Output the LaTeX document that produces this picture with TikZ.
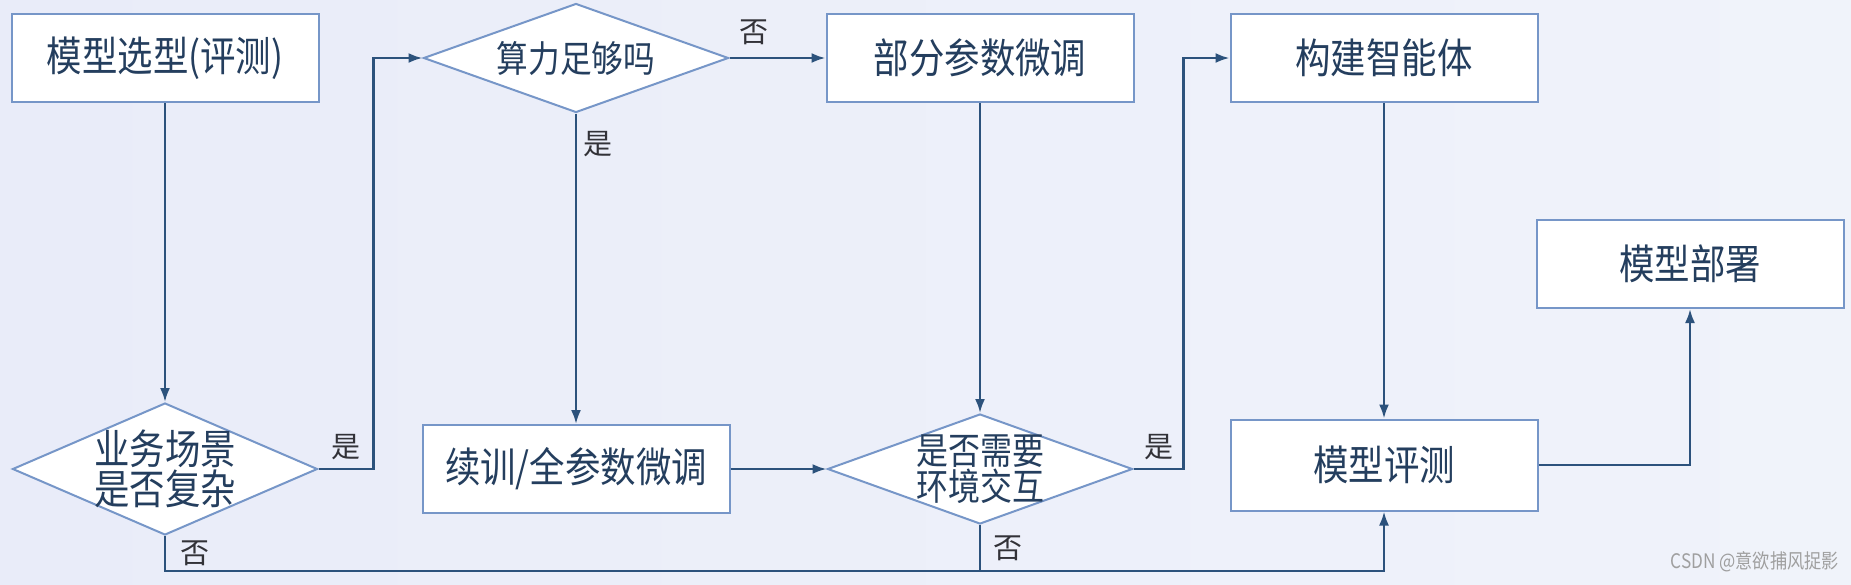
\documentclass[tikz,border=0pt]{standalone}
\usepackage{fontspec}
\newfontfamily\cjk[FakeStretch=0.86]{Noto Sans CJK SC}
\newfontfamily\cjkplain{Noto Sans CJK SC}
\usetikzlibrary{shapes.geometric,arrows.meta}
\definecolor{boxline}{RGB}{118,150,200}
\definecolor{boxtext}{RGB}{36,62,94}
\definecolor{flowline}{RGB}{44,82,124}
\definecolor{marktext}{RGB}{50,50,56}
\definecolor{bgleft}{RGB}{233,236,249}
\definecolor{bgright}{RGB}{240,243,250}
\tikzset{procbox/.style={draw=boxline, fill=white, line width=1pt, minimum width=153.5pt, minimum height=44pt, inner sep=0pt, text=boxtext, font=\cjk\fontsize{20.6}{22}\selectfont}}
\tikzset{decision/.style={diamond, draw=boxline, fill=white, line width=1pt, inner sep=0pt, minimum width=152.5pt}}
\tikzset{decisiontext/.style={text=boxtext, align=center, inner sep=0pt, font=\cjk\fontsize{18.6}{17}\selectfont}}
\tikzset{flow/.style={draw=flowline, line width=1.2pt, -{Latex[length=7pt,width=5pt]}}}
\tikzset{yesno/.style={text=marktext, font=\cjkplain\fontsize{14.5}{15}\selectfont, inner sep=2pt}}

\begin{document}
\begin{tikzpicture}[x=0.5pt, y=-0.5pt]
    \shade [left color=bgleft, right color=bgright] (0,0) rectangle (1851,584);
    \useasboundingbox (0,0) rectangle (1851,584);
    \node [procbox] (select) at (165,58) {模型选型(评测)};
    \node [decision, minimum height=54.5pt, label={[decisiontext, font=\cjk\fontsize{18.4}{17}\selectfont]center:算力足够吗}] (power) at (576,58) {};
    \node [procbox] (partial) at (980,58) {部分参数微调};
    \node [procbox] (agent) at (1384,58) {构建智能体};
    \node [procbox] (deploy) at (1690,264) {模型部署};
    \node [decision, minimum height=66pt, label={[decisiontext, font=\cjk\fontsize{20.6}{18.5}\selectfont]center:{业务场景\\是否复杂}}] (complex) at (165,469) {};
    \node [procbox] (fulltune) at (576,469) {续训/全参数微调};
    \node [decision, minimum height=55pt, label={[decisiontext]center:{是否需要\\环境交互}}] (interact) at (980,469) {};
    \node [procbox, minimum height=45.5pt] (evaluate) at (1384,465) {模型评测};
    \coordinate (bus) at (0,571);
    \draw [flow] (select) -- (complex);
    \draw [flow] (complex.east) -- ++(55,0) node [yesno, midway, above=2pt] (yes1) {是} |- (power.west);
    \draw [flow] (power) -- (partial) node [yesno, pos=0.25, above=4pt] (no1) {否};
    \draw [flow] (power) -- (fulltune) node [yesno, pos=0.1, right=1pt] (yes2) {是};
    \draw [flow] (fulltune) -- (interact);
    \draw [flow] (partial) -- (interact);
    \draw [flow] (interact.east) -- ++(50,0) node [yesno, midway, above=2pt] (yes3) {是} |- (agent.west);
    \draw [flow] (agent) -- (evaluate);
    \draw [flow] (evaluate.east) -| (deploy.south);
    \draw [flow] (complex.south) -- (complex.south |- bus) node [yesno, midway, right=5pt] (no2) {否} -| (evaluate.south);
    \draw [draw=flowline, line width=1.2pt] (interact.south) -- (interact.south |- bus) node [yesno, midway, right=4pt] (no3) {否};
    \node [anchor=east, text=gray!75, font=\cjk\fontsize{10}{11}\selectfont] (csdn) at (1846,562) {CSDN @意欲捕风捉影};
\end{tikzpicture}
\end{document}
